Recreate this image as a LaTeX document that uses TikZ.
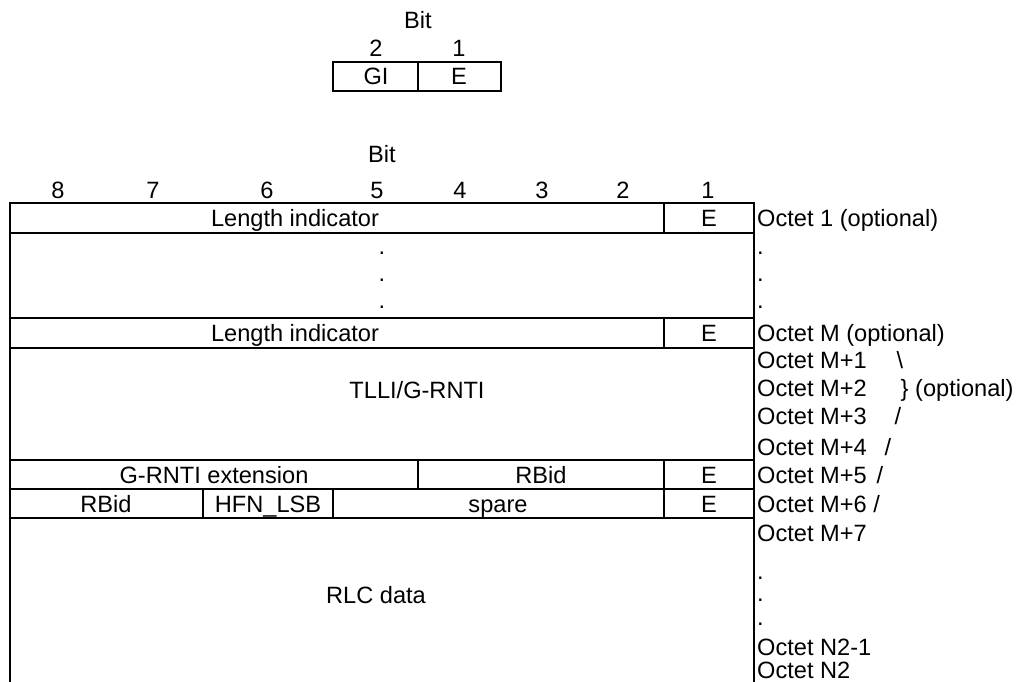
\documentclass[tikz,border=0pt]{standalone}
\usepackage{fontspec}
\setmainfont{Liberation Sans}
\tikzset{
  lbl/.style={inner sep=0pt, text height=16pt, text depth=0pt, font=\fontsize{23.6}{28}\selectfont},
  dot/.style={inner sep=0pt, anchor=base, font=\fontsize{23.6}{28}\selectfont},
  oct/.style={lbl, anchor=west},
  octdot/.style={dot, anchor=base west},
  cell/.style={line width=2.2pt}
}
\begin{document}
\begin{tikzpicture}[x=1pt,y=-1pt]
  \useasboundingbox (0,0) rectangle (1020,682);

  % extension field (GI, E)
  \node[lbl] (gbit) at (418,21) {Bit};
  \node[lbl] (g2) at (376,49) {2};
  \node[lbl] (g1) at (459,49) {1};
  \draw[cell] (333,62) rectangle (501,91);
  \draw[cell] (418,62) -- (418,91);
  \node[lbl] (gi) at (376,77) {GI};
  \node[lbl] (ge) at (459,77) {E};

  % bit header
  \node[lbl] (bit) at (382,155) {Bit};
  \foreach \b/\x in {8/58,7/153,6/267,5/377,4/460,3/542,2/623,1/708}
    \node[lbl] (b\b) at (\x,190) {\b};

  % table lines
  \draw[cell] (10,682) -- (10,203) -- (754,203) -- (754,682);
  \foreach \y in {233,318,348,460,489,518}
    \draw[cell] (10,\y) -- (754,\y);
  \draw[cell] (664,203) -- (664,233);
  \draw[cell] (664,318) -- (664,348);
  \draw[cell] (664,460) -- (664,518);
  \draw[cell] (418,460) -- (418,489);
  \draw[cell] (203,489) -- (203,518);
  \draw[cell] (333,489) -- (333,518);

  % fields
  \node[lbl] (li1) at (295,218) {Length indicator};
  \node[lbl] (e1) at (709,218) {E};
  \node[dot] (d1) at (382,254) {.};
  \node[dot] (d2) at (382,281) {.};
  \node[dot] (d3) at (382,308) {.};
  \node[lbl] (lim) at (295,333) {Length indicator};
  \node[lbl] (em) at (709,333) {E};
  \node[lbl] (tlli) at (417,390) {TLLI/G-RNTI};
  \node[lbl] (gext) at (214,475) {G-RNTI extension};
  \node[lbl] (rbid1) at (541,475) {RBid};
  \node[lbl] (e5) at (709,475) {E};
  \node[lbl] (rbid2) at (106,504) {RBid};
  \node[lbl] (hfn) at (268,504) {HFN\_LSB};
  \node[lbl] (spare) at (498,504) {spare};
  \node[lbl] (e6) at (709,504) {E};
  \node[lbl] (rlc) at (376,595) {RLC data};

  % octet labels
  \node[oct] (o1) at (757,218) {Octet 1 (optional)};
  \node[octdot] (od1) at (757,254) {.};
  \node[octdot] (od2) at (757,281) {.};
  \node[octdot] (od3) at (757,308) {.};
  \node[oct] (om) at (757,333) {Octet M (optional)};
  \node[oct] (om1) at (757,360) {Octet M+1\hspace{30pt}\textbackslash};
  \node[oct] (om2) at (757,388) {Octet M+2\hspace{34pt}\} (optional)};
  \node[oct] (om3) at (757,416) {Octet M+3\hspace{28pt}/};
  \node[oct] (om4) at (757,447) {Octet M+4\hspace{18pt}/};
  \node[oct] (om5) at (757,475) {Octet M+5\hspace{10pt}/};
  \node[oct] (om6) at (757,504) {Octet M+6 /};
  \node[oct] (om7) at (757,533) {Octet M+7};
  \node[octdot] (od4) at (757,579) {.};
  \node[octdot] (od5) at (757,601) {.};
  \node[octdot] (od6) at (757,625) {.};
  \node[oct] (on1) at (757,647) {Octet N2-1};
  \node[oct] (on) at (757,670) {Octet N2};
\end{tikzpicture}
\end{document}
